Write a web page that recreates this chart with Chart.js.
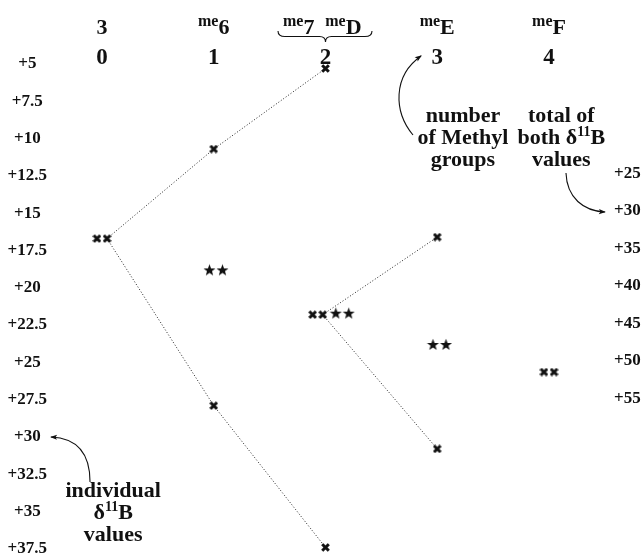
<!DOCTYPE html>
<html>
<head>
<meta charset="utf-8">
<script src="https://cdn.jsdelivr.net/npm/chart.js@4.4.1/dist/chart.umd.min.js"></script>
<style>
	html, body { margin: 0; padding: 0; background: #fff; }
	#wrap { width: 642px; height: 560px; }
</style>
</head>
<body>
<div id="wrap"><canvas id="chart" width="642" height="560"></canvas></div>
<script>
// number of methyl groups per column, and the compounds named above it
const methylCounts = ['0', '1', '2', '3', '4'];
const compoundNames = [
	[['', '3']],
	[['me', '6']],
	[['me', '7'], ['me', 'D']],
	[['me', 'E']],
	[['me', 'F']]
];

// individual d11B values (left axis), drawn as crosses
const crossCols = [0, 1, 1, 2, 2, 2, 3, 3];
const crossVals = [16.7, 10.7, 27.9, 5.3, 21.8, 37.4, 16.6, 30.8];
const crossPaired = [true, false, false, false, true, false, false, false];

// values marked with a pair of stars
const starCols = [1, 2, 3];
const starVals = [18.8, 21.7, 23.8];

// total of both d11B values (right axis)
const totalCols = [4];
const totalVals = [51.5];

// dotted branches, as indices into crossCols / crossVals
const branches = [[0, 1, 3], [0, 2, 5], [4, 6], [4, 7]];

const leftTicks = [5, 7.5, 10, 12.5, 15, 17.5, 20, 22.5, 25, 27.5, 30, 32.5, 35, 37.5];
const rightTicks = [25, 30, 35, 40, 45, 50, 55];

const methylNote = ['number', 'of Methyl', 'groups'];
const totalNote = ['total of', 'both \u03b4^11^B', 'values'];
const individualNote = ['individual', '\u03b4^11^B', 'values'];

const FONT = '"Liberation Serif", "Times New Roman", serif';
const INK = '#111';
const PAIR = 0.045;      // half gap between the two crosses of a pair
const STAR_PAIR = 0.058;

// small marker images
function makeCross() {
	const c = document.createElement('canvas');
	c.width = 9; c.height = 9;
	const g = c.getContext('2d');
	g.strokeStyle = INK;
	g.lineWidth = 3;
	g.beginPath();
	g.moveTo(1.2, 1.2); g.lineTo(7.8, 7.8);
	g.moveTo(7.8, 1.2); g.lineTo(1.2, 7.8);
	g.stroke();
	return c;
}
function makeStar() {
	const c = document.createElement('canvas');
	c.width = 13; c.height = 13;
	const g = c.getContext('2d');
	g.fillStyle = INK;
	g.beginPath();
	for (let i = 0; i < 10; i++) {
		const r = i % 2 ? 2.6 : 6.3;
		const a = -Math.PI / 2 + i * Math.PI / 5;
		const px = 6.5 + r * Math.cos(a), py = 7 + r * Math.sin(a);
		if (i) {g.lineTo(px, py);} else {g.moveTo(px, py);}
	}
	g.closePath();
	g.fill();
	return c;
}
const crossImg = makeCross();
const starImg = makeStar();

// a cross pair and a star pair at the same height sit side by side
function crossShift(i) {
	if (!crossPaired[i]) {return 0;}
	for (let j = 0; j < starCols.length; j++) {
		if (starCols[j] === crossCols[i] && Math.abs(starVals[j] - crossVals[i]) < 1.5) {return -0.07;}
	}
	return 0;
}
function starShift(j) {
	for (let i = 0; i < crossCols.length; i++) {
		if (crossPaired[i] && crossCols[i] === starCols[j] && Math.abs(starVals[j] - crossVals[i]) < 1.5) {return 0.15;}
	}
	return 0.02;
}

const crossPoints = [];
crossCols.forEach(function(c, i) {
	const x = c + crossShift(i);
	if (crossPaired[i]) {
		crossPoints.push({x: x - PAIR, y: crossVals[i]}, {x: x + PAIR, y: crossVals[i]});
	} else {
		crossPoints.push({x: x, y: crossVals[i]});
	}
});
const starPoints = [];
starCols.forEach(function(c, j) {
	const x = c + starShift(j);
	starPoints.push({x: x - STAR_PAIR, y: starVals[j]}, {x: x + STAR_PAIR, y: starVals[j]});
});
const totalPoints = [];
totalCols.forEach(function(c, k) {
	totalPoints.push({x: c - PAIR, y: totalVals[k]}, {x: c + PAIR, y: totalVals[k]});
});

const datasets = [
	{data: crossPoints, yAxisID: 'y', pointStyle: crossImg},
	{data: starPoints, yAxisID: 'y', pointStyle: starImg},
	{data: totalPoints, yAxisID: 'y2', pointStyle: crossImg}
];
branches.forEach(function(b) {
	datasets.push({
		data: b.map(function(i) {
			const x = crossCols[i] + crossShift(i) + (crossPaired[i] ? PAIR : 0);
			return {x: x, y: crossVals[i]};
		}),
		yAxisID: 'y',
		showLine: true,
		pointRadius: 0,
		borderColor: '#222',
		borderWidth: 1,
		borderDash: [1, 2]
	});
});

// text with ^superscript^ parts, centred on cx, baseline cy
function richText(ctx, str, cx, cy, size) {
	let w = 0;
	const segs = str.split('^').map(function(t, i) {
		const sup = i % 2 === 1;
		const sz = sup ? Math.round(size * 0.62) : size;
		ctx.font = 'bold ' + sz + 'px ' + FONT;
		const m = ctx.measureText(t).width;
		w += m;
		return {t: t, sz: sz, sup: sup, m: m};
	});
	let x = cx - w / 2;
	segs.forEach(function(s) {
		ctx.font = 'bold ' + s.sz + 'px ' + FONT;
		ctx.fillText(s.t, x, cy - (s.sup ? size * 0.36 : 0));
		x += s.m;
	});
}

function curvedArrow(ctx, px) {
	const [a, b, c, d] = px;
	ctx.beginPath();
	ctx.moveTo(a[0], a[1]);
	ctx.bezierCurveTo(b[0], b[1], c[0], c[1], d[0], d[1]);
	ctx.lineWidth = 1.1;
	ctx.stroke();
	const ang = Math.atan2(d[1] - c[1], d[0] - c[0]);
	ctx.save();
	ctx.translate(d[0], d[1]);
	ctx.rotate(ang);
	ctx.beginPath();
	ctx.moveTo(1, 0);
	ctx.lineTo(-6, -2.6);
	ctx.lineTo(-4.5, 0);
	ctx.lineTo(-6, 2.6);
	ctx.closePath();
	ctx.fill();
	ctx.restore();
}

const labelsPlugin = {
	id: 'labels',
	afterDatasetsDraw: function(chart) {
		const ctx = chart.ctx;
		const xs = chart.scales.x, ys = chart.scales.y;
		const P = function(col, val) {return [xs.getPixelForValue(col), ys.getPixelForValue(val)];};
		ctx.save();
		ctx.fillStyle = INK;
		ctx.strokeStyle = INK;
		ctx.textBaseline = 'alphabetic';
		ctx.textAlign = 'left';

		// column numbers and compound names
		methylCounts.forEach(function(t, i) {
			richText(ctx, t, xs.getPixelForValue(i), ys.getPixelForValue(5.0), 23);
		});
		compoundNames.forEach(function(names, i) {
			names.forEach(function(n, k) {
				const col = i + (names.length > 1 ? (k - (names.length - 1) / 2) * 0.4 - 0.04 : 0);
				const cx = xs.getPixelForValue(col);
				const base = ys.getPixelForValue(2.99);
				ctx.font = 'bold 16px ' + FONT;
				const w1 = ctx.measureText(n[0]).width;
				ctx.font = 'bold 22px ' + FONT;
				const w2 = ctx.measureText(n[1]).width;
				const x0 = cx - (w1 + w2) / 2;
				ctx.font = 'bold 16px ' + FONT;
				ctx.fillText(n[0], x0, base - 8);
				ctx.font = 'bold 22px ' + FONT;
				ctx.fillText(n[1], x0 + w1, base);
			});
		});

		// brace over the two compounds of column 2
		const L = P(1.575, 2.79), R = P(2.416, 2.79), C = P(2.0, 3.53);
		const mid = (L[1] + C[1]) / 2;
		ctx.beginPath();
		ctx.lineWidth = 1.1;
		ctx.moveTo(L[0], L[1]);
		ctx.quadraticCurveTo(L[0], mid, L[0] + 7, mid);
		ctx.lineTo(C[0] - 6, mid);
		ctx.quadraticCurveTo(C[0], mid, C[0], C[1]);
		ctx.quadraticCurveTo(C[0], mid, C[0] + 6, mid);
		ctx.lineTo(R[0] - 7, mid);
		ctx.quadraticCurveTo(R[0], mid, R[0], R[1]);
		ctx.stroke();

		// notes
		const drawNote = function(lines, col, val) {
			const p = P(col, val);
			lines.forEach(function(t, k) {richText(ctx, t, p[0], p[1] + k * 22, 22);});
		};
		drawNote(methylNote, 3.23, 8.89);
		drawNote(totalNote, 4.11, 8.89);
		drawNote(individualNote, 0.1, 34.02);

		curvedArrow(ctx, [P(2.783, 9.76), P(2.61, 8.2), P(2.6, 5.8), P(2.855, 4.46)]);
		curvedArrow(ctx, [P(4.152, 12.31), P(4.16, 13.98), P(4.31, 14.85), P(4.5, 14.92)]);
		curvedArrow(ctx, [P(-0.107, 33.02), P(-0.107, 31.0), P(-0.233, 30.07), P(-0.456, 30.0)]);
		ctx.restore();
	}
};

const tickFont = {family: FONT, size: 17, weight: 'bold'};

new Chart(document.getElementById('chart').getContext('2d'), {
	type: 'scatter',
	data: {datasets: datasets},
	options: {
		responsive: false,
		animation: false,
		devicePixelRatio: 1,
		layout: {padding: 0, autoPadding: false},
		plugins: {legend: {display: false}, tooltip: {enabled: false}},
		scales: {
			x: {type: 'linear', display: false, min: -0.3758, max: 4.5638},
			y: {
				type: 'linear',
				position: 'left',
				reverse: true,
				min: 0.7105,
				max: 38.244,
				grid: {display: false, drawTicks: false},
				border: {display: false},
				ticks: {
					crossAlign: 'center',
					padding: 13,
					color: INK,
					font: tickFont,
					callback: function(v) {return '+' + v;}
				},
				afterBuildTicks: function(axis) {axis.ticks = leftTicks.map(function(v) {return {value: v};});},
				afterFit: function(axis) {axis.width = 60; axis.paddingTop = 0; axis.paddingBottom = 0;}
			},
			y2: {
				type: 'linear',
				position: 'right',
				reverse: true,
				min: 1.893,
				max: 76.56,
				grid: {display: false, drawTicks: false},
				border: {display: false},
				ticks: {
					crossAlign: 'near',
					padding: 2,
					color: INK,
					font: tickFont,
					callback: function(v) {return '+' + v;}
				},
				afterBuildTicks: function(axis) {axis.ticks = rightTicks.map(function(v) {return {value: v};});},
				afterFit: function(axis) {axis.width = 30; axis.paddingTop = 0; axis.paddingBottom = 0;}
			}
		}
	},
	plugins: [labelsPlugin]
});
</script>
</body>
</html>
